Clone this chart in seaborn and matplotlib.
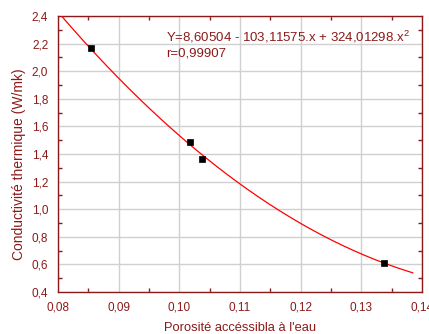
import numpy as np
import pandas as pd
import matplotlib
matplotlib.use("Agg")
import matplotlib.pyplot as plt
from matplotlib.ticker import MultipleLocator, FuncFormatter
import seaborn as sns

# Data
porosity = [0.0855, 0.1018, 0.1038, 0.1337]
conductivity = [2.165, 1.49, 1.365, 0.61]
# Fit coefficients as printed on the chart (c0, c1, c2)
fit_coeffs = [8.60504, -103.11575, 324.01298]
fit_range = [0.080, 0.1385]
x_ticks = [0.08, 0.09, 0.10, 0.11, 0.12, 0.13, 0.14]
y_ticks = [0.4, 0.6, 0.8, 1.0, 1.2, 1.4, 1.6, 1.8, 2.0, 2.2, 2.4]

sns.set_theme(style="white")
plt.rcParams['font.family'] = ['Liberation Sans', 'DejaVu Sans']
plt.rcParams['mathtext.fontset'] = 'custom'
plt.rcParams['mathtext.rm'] = 'Liberation Sans'
plt.rcParams['mathtext.it'] = 'Liberation Sans'

dark = '#8b1a1a'
df = pd.DataFrame({'x': porosity, 'y': conductivity})
xf = np.linspace(fit_range[0], fit_range[1], 200)
yf = fit_coeffs[0] + fit_coeffs[1] * xf + fit_coeffs[2] * xf ** 2
fit_df = pd.DataFrame({'x': xf, 'y': yf})

fig = plt.figure(figsize=(4.29, 3.34), dpi=100)
ax = fig.add_axes([58/429, 1-292/334, (422-58)/429, (292-16)/334])

ax.set_xlim(0.08, 0.14)
ax.set_ylim(0.4, 2.4)
ax.set_xticks(x_ticks)
ax.set_yticks(y_ticks)
ax.xaxis.set_minor_locator(MultipleLocator(0.005))
ax.yaxis.set_minor_locator(MultipleLocator(0.1))
ax.grid(True, which='major', color='#d0d0d0', linewidth=1.0, zorder=0)
ax.set_axisbelow(True)

sns.lineplot(data=fit_df, x='x', y='y', ax=ax, color='#ff0000', linewidth=0.9, zorder=3)
sns.scatterplot(data=df, x='x', y='y', ax=ax, marker='s', color='black', s=22,
                edgecolor='black', linewidth=0.5, zorder=4)

ax.xaxis.set_major_formatter(FuncFormatter(lambda v, p: f"{v:.2f}".replace('.', ',')))
ax.yaxis.set_major_formatter(FuncFormatter(lambda v, p: f"{v:.1f}".replace('.', ',')))

for s in ax.spines.values():
    s.set_color(dark)
    s.set_linewidth(1.0)

ax.tick_params(axis='both', which='major', direction='out', length=4, width=1,
               color=dark, labelcolor=dark, labelsize=8.5, pad=3,
               top=False, right=False)
ax.tick_params(axis='both', which='minor', direction='in', length=3, width=1,
               color=dark, top=True, right=True, bottom=True, left=True)

ax.set_xlabel("Porosité accéssibla à l'eau", color=dark, fontsize=9.3, labelpad=6)
ax.set_ylabel("Conductivité thermique (W/mk)", color=dark, fontsize=10)
ax.yaxis.set_label_coords(-0.088, 0.464)

ax.text(0.0978, 2.245, "Y=8,60504 - 103,11575.x + 324,01298.x$^{\\mathrm{2}}$", color=dark,
        fontsize=9.5, va='center', ha='left')
ax.text(0.0978, 2.125, "r=0,99907", color=dark, fontsize=9.5, va='center', ha='left')

fig.savefig("out.png", dpi=100)
